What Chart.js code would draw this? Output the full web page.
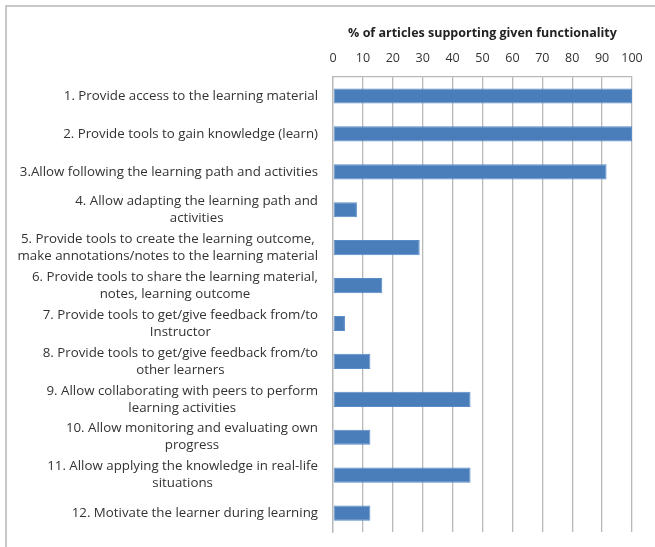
<!DOCTYPE html>
<html>
<head>
<meta charset="utf-8">
<script src="https://cdn.jsdelivr.net/npm/chart.js@4"></script>
<style>
  html, body { margin: 0; padding: 0; background: #fff; }
  #wrap { position: relative; width: 655px; height: 547px; }
  #frame { position: absolute; left: 5px; top: 5px; width: 660px; height: 560px;
           border-left: 2px solid #c8c8c8; border-top: 2px solid #c8c8c8; }
</style>
</head>
<body>
<div id="wrap">
  <div id="frame"></div>
  <canvas id="chart" width="655" height="547"></canvas>
</div>
<script>
// 항목 (줄바꿈 포함)
const functionalities = [
  ["1. Provide access to the learning material"],
  ["2. Provide tools to gain knowledge (learn)"],
  ["3.Allow following the learning path and activities"],
  ["4. Allow adapting the learning path and", "activities"],
  ["5. Provide tools to create the learning outcome,", "make annotations/notes to the learning material"],
  ["6. Provide tools to share the learning material,", "notes, learning outcome"],
  ["7. Provide tools to get/give feedback from/to", "Instructor"],
  ["8. Provide tools to get/give feedback from/to", "other learners"],
  ["9. Allow collaborating with peers to perform", "learning activities"],
  ["10. Allow monitoring and evaluating own", "progress"],
  ["11. Allow applying the knowledge in real-life", "situations"],
  ["12. Motivate the learner during learning"]
];
// % of articles
const articlePercent = [100, 100, 91.5, 8, 29, 16.5, 4, 12.5, 46, 12.5, 46, 12.5];
const axisTitle = "% of articles supporting given functionality";

const labelFont = "13.3px 'Open Sans'";

// 엑셀처럼: 블록은 오른쪽 정렬, 줄은 블록 안에서 가운데 정렬
const wrappedLabels = {
  id: "wrappedLabels",
  afterDraw(chart) {
    const ctx = chart.ctx;
    const y = chart.scales.y;
    const lineH = 17;
    ctx.save();
    ctx.font = labelFont;
    ctx.fillStyle = "#333";
    ctx.textAlign = "center";
    ctx.textBaseline = "middle";
    functionalities.forEach((lines, i) => {
      const cy = y.getPixelForTick(i);
      const w = Math.max(...lines.map(l => ctx.measureText(l).width));
      const cx = y.right - 15 - w / 2;
      lines.forEach((l, j) => {
        ctx.fillText(l, cx, cy + (j - (lines.length - 1) / 2) * lineH);
      });
    });
    ctx.restore();
  }
};

new Chart(document.getElementById("chart"), {
  type: "bar",
  data: {
    labels: functionalities,
    datasets: [{
      data: articlePercent,
      backgroundColor: "#4a7ebb",
      borderColor: "#5a8dc8",
      borderWidth: 1,
      borderSkipped: false,
      barPercentage: 0.4,
      categoryPercentage: 1
    }]
  },
  options: {
    indexAxis: "y",
    responsive: false,
    animation: false,
    layout: { padding: { left: 0, right: 23, top: 0, bottom: 15 } },
    plugins: { legend: { display: false }, tooltip: { enabled: false } },
    scales: {
      x: {
        position: "top",
        min: 0,
        max: 100,
        ticks: { stepSize: 10, color: "#333", font: { family: "Open Sans", size: 12.5 }, padding: 11 },
        title: { display: true, text: axisTitle, color: "#222", font: { family: "Open Sans", size: 12.5, weight: "bold" }, padding: { top: 26, bottom: 0 } },
        grid: { color: "#b8b8b8", lineWidth: 1.3, drawTicks: false },
        border: { display: true, color: "#b8b8b8", width: 1.3 },
        afterFit(scale) { scale.height = 77; }
      },
      y: {
        ticks: { display: false },
        grid: { display: false },
        border: { display: true, color: "#b8b8b8", width: 1.3 },
        afterFit(scale) { scale.width = 333; }
      }
    }
  },
  plugins: [wrappedLabels]
});
</script>
</body>
</html>
